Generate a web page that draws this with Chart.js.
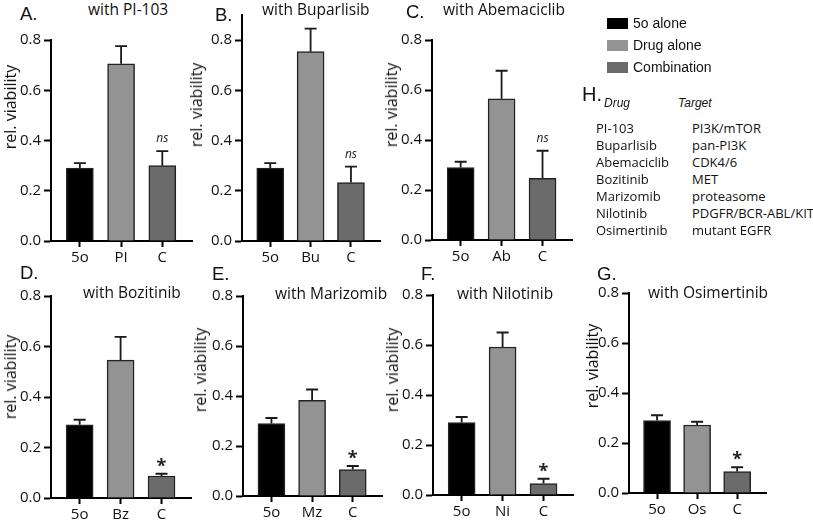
<!DOCTYPE html>
<html>
<head>
<meta charset="utf-8">
<script src="https://cdn.jsdelivr.net/npm/chart.js@4.4.0/dist/chart.umd.min.js"></script>
<style>
  body { margin: 0; background: #fff; }
  #fig { position: relative; width: 813px; height: 522px; overflow: hidden; font-family: 'Open Sans', sans-serif; color: #111; }
  .panel { position: absolute; }
  .txt { position: absolute; white-space: nowrap; line-height: 1; transform: translateY(-50%); }
  .letter { font-family: 'Liberation Sans', Arial, sans-serif; font-size: 18.5px; }
  .title { font-size: 15.5px; }
  .ylab { font-size: 16px; transform: translate(-50%, -50%) rotate(-90deg); }
  .leg { font-family: 'Liberation Sans', Arial, sans-serif; font-size: 14px; }
  .sw { position: absolute; width: 21px; height: 11px; }
  .thead { font-family: 'Liberation Sans', Arial, sans-serif; font-style: italic; font-size: 12px; }
  .trow { font-size: 13px; }
</style>
</head>
<body>
<div id="fig"></div>
<script>
// data
const drugNames = ['PI-103', 'Buparlisib', 'Abemaciclib', 'Bozitinib', 'Marizomib', 'Nilotinib', 'Osimertinib'];
const drugShort = ['PI', 'Bu', 'Ab', 'Bz', 'Mz', 'Ni', 'Os'];
const drugTargets = ['PI3K/mTOR', 'pan-PI3K', 'CDK4/6', 'MET', 'proteasome', 'PDGFR/BCR-ABL/KIT', 'mutant EGFR'];
const panelLetters = ['A.', 'B.', 'C.', 'D.', 'E.', 'F.', 'G.'];
const seriesNames = ['5o alone', 'Drug alone', 'Combination'];

const alone5o = [0.29, 0.29, 0.29, 0.29, 0.29, 0.29, 0.29];
const alone5oErr = [0.02, 0.02, 0.023, 0.02, 0.022, 0.022, 0.021];
const drugAlone = [0.705, 0.754, 0.565, 0.546, 0.383, 0.592, 0.272];
const drugAloneErr = [0.071, 0.092, 0.112, 0.092, 0.043, 0.058, 0.013];
const combination = [0.30, 0.233, 0.247, 0.087, 0.106, 0.046, 0.086];
const combinationErr = [0.058, 0.063, 0.11, 0.009, 0.014, 0.019, 0.017];
const significance = ['ns', 'ns', 'ns', '*', '*', '*', '*'];

const yTicks = [0, 0.2, 0.4, 0.6, 0.8];
const yMax = [0.8, 0.9, 0.8, 0.8, 0.8, 0.8, 0.8];

// styles / layout
const seriesColors = ['#000000', '#939393', '#6b6b6b'];
const boxes = [
  { ax: 51,  yTop: 38,  y0: 241, xr: 192, letter: [20, 14],  title: [88, 10],  ylab: [10, 107] },
  { ax: 242, yTop: 13,  y0: 241, xr: 380, letter: [215, 15], title: [262, 10], ylab: [196, 105] },
  { ax: 432, yTop: 38,  y0: 240, xr: 572, letter: [406, 12], title: [443, 10], ylab: [391, 105] },
  { ax: 51,  yTop: 294, y0: 498, xr: 191, letter: [20, 273], title: [83, 293], ylab: [10, 377] },
  { ax: 243, yTop: 294, y0: 496, xr: 382, letter: [212, 274], title: [275, 294], ylab: [200, 370] },
  { ax: 433, yTop: 293, y0: 495, xr: 573, letter: [421, 274], title: [457, 294], ylab: [392, 370] },
  { ax: 629, yTop: 291, y0: 493, xr: 766, letter: [597, 274], title: [648, 293], ylab: [592, 366] }
];
const YW = 48, PT = 10, PR = 4, XH = 30;

const fig = document.getElementById('fig');

function addText(cls, text, x, y) {
  const d = document.createElement('div');
  d.className = 'txt ' + cls;
  d.textContent = text;
  d.style.left = x + 'px';
  d.style.top = y + 'px';
  fig.appendChild(d);
  return d;
}

// error bars and significance marks
const errorBars = {
  id: 'errorBars',
  afterDatasetsDraw(chart) {
    const ctx = chart.ctx;
    const y = chart.scales.y;
    const ds = chart.data.datasets[0];
    const meta = chart.getDatasetMeta(0);
    ctx.save();
    ctx.strokeStyle = '#1a1a1a';
    ctx.lineWidth = 1.8;
    meta.data.forEach((bar, i) => {
      const top = y.getPixelForValue(ds.data[i].y + ds.errors[i]);
      ctx.beginPath();
      ctx.moveTo(bar.x, bar.y);
      ctx.lineTo(bar.x, top);
      ctx.moveTo(bar.x - 6, top);
      ctx.lineTo(bar.x + 6, top);
      ctx.stroke();
      if (i === 2) {
        ctx.fillStyle = '#222';
        ctx.textAlign = 'center';
        ctx.textBaseline = 'alphabetic';
        if (ds.sig === 'ns') {
          ctx.font = "italic 12px 'Open Sans'";
          ctx.fillText('ns', bar.x, top - 9);
        } else {
          ctx.font = "bold 18px 'Open Sans'";
          ctx.fillText(ds.sig, bar.x, top - 2);
        }
      }
    });
    ctx.restore();
  }
};

Chart.defaults.font.family = "'Open Sans'";
Chart.defaults.color = '#111';

boxes.forEach((b, p) => {
  const w = YW + (b.xr - b.ax) + PR;
  const h = PT + (b.y0 - b.yTop) + XH;
  const div = document.createElement('div');
  div.className = 'panel';
  div.style.left = (b.ax - YW) + 'px';
  div.style.top = (b.yTop - PT) + 'px';
  div.style.width = w + 'px';
  div.style.height = h + 'px';
  const cv = document.createElement('canvas');
  div.appendChild(cv);
  fig.appendChild(div);

  const labels = ['5o', drugShort[p], 'C'];
  const vals = [alone5o[p], drugAlone[p], combination[p]];

  new Chart(cv, {
    type: 'bar',
    data: {
      datasets: [{
        data: vals.map((v, i) => ({ x: i, y: v })),
        errors: [alone5oErr[p], drugAloneErr[p], combinationErr[p]],
        sig: significance[p],
        backgroundColor: seriesColors,
        borderColor: '#222',
        borderWidth: 1.5,
        barThickness: 27
      }]
    },
    options: {
      responsive: true,
      maintainAspectRatio: false,
      animation: false,
      layout: { padding: { top: PT, right: PR, left: 0, bottom: 0 } },
      plugins: { legend: { display: false }, tooltip: { enabled: false } },
      scales: {
        x: {
          type: 'linear',
          min: -0.7,
          max: 2.72,
          offset: false,
          afterBuildTicks: s => { s.ticks = labels.map((l, i) => ({ value: i })); },
          afterFit: s => { s.height = XH; },
          ticks: { autoSkip: false, maxRotation: 0, padding: 2, font: { size: 15 }, callback: v => labels[v] },
          grid: { offset: false, drawOnChartArea: false, tickLength: 6, tickColor: '#000', tickWidth: 2 },
          border: { color: '#000', width: 2 }
        },
        y: {
          min: 0,
          max: yMax[p],
          afterBuildTicks: s => { s.ticks = yTicks.map(v => ({ value: v })); },
          afterFit: s => { s.width = YW; },
          ticks: { padding: 3, font: { size: 15 }, callback: v => v.toFixed(1) },
          grid: { drawOnChartArea: false, tickLength: 7, tickColor: '#000', tickWidth: 2 },
          border: { color: '#000', width: 2 }
        }
      }
    },
    plugins: [errorBars]
  });

  addText('letter', panelLetters[p], b.letter[0], b.letter[1]);
  addText('title', 'with ' + drugNames[p], b.title[0], b.title[1]);
  addText('ylab', 'rel. viability', b.ylab[0], b.ylab[1]);
});

// legend
seriesNames.forEach((name, i) => {
  const cy = 23 + i * 22;
  const sw = document.createElement('div');
  sw.className = 'sw';
  sw.style.left = '607px';
  sw.style.top = (cy - 5.5) + 'px';
  sw.style.background = seriesColors[i];
  fig.appendChild(sw);
  addText('leg', name, 633, cy);
});

// H. drug / target table
addText('letter', 'H.', 582, 94).style.fontSize = '20px';
addText('thead', 'Drug', 604, 103);
addText('thead', 'Target', 678, 103);
drugNames.forEach((d, i) => {
  addText('trow', d, 596, 128 + i * 17);
  addText('trow', drugTargets[i], 692, 128 + i * 17);
});
</script>
</body>
</html>
